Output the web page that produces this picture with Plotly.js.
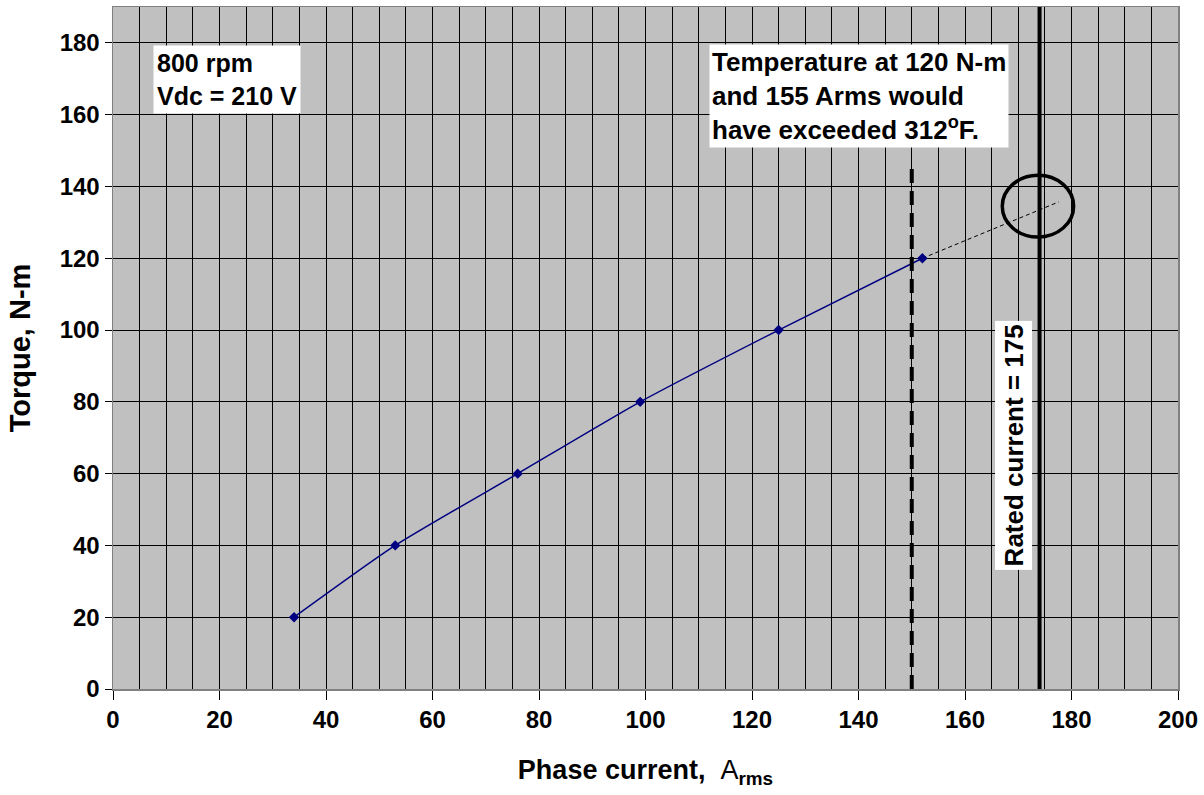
<!DOCTYPE html>
<html><head><meta charset="utf-8">
<script src="https://cdn.plot.ly/plotly-3.0.1.min.js"></script>
<style>body{margin:0;background:#fff}#c{width:1204px;height:795px}</style>
</head><body><div id="c"></div>
<script>
const currentA = [34, 53, 76, 99, 125, 152];
const torqueNm = [20, 40, 60, 80, 100, 120];
const extrapX = [152, 177.6];
const extrapY = [120, 135.7];
const tempLimitCurrent = 150;
const tempLimitTop = 145;
const ratedCurrentLine = 174;
const circleX = [167, 180.4];
const circleY = [125.9, 143.1];

const F = 'Arial, "Liberation Sans", sans-serif';

const traces = [
  {x: extrapX, y: extrapY, mode: 'lines', line: {color: '#000', width: 1, dash: '4px,3px'}, hoverinfo: 'skip'},
  {x: currentA, y: torqueNm, mode: 'lines+markers', line: {color: '#000080', width: 1.5, shape: 'spline', smoothing: 0.6},
   marker: {symbol: 'diamond', size: 8, color: '#000080'}}
];

const layout = {
  width: 1204, height: 795,
  margin: {l: 113, r: 26, t: 7, b: 106},
  paper_bgcolor: '#fff', plot_bgcolor: '#C0C0C0',
  showlegend: false,
  font: {family: F, color: '#000'},
  xaxis: {
    range: [0, 200], dtick: 20, tick0: 0,
    showgrid: true, gridcolor: '#000', gridwidth: 1,
    minor: {dtick: 5, showgrid: true, gridcolor: '#000', gridwidth: 1},
    ticks: 'outside', ticklen: 9, tickcolor: '#000', tickwidth: 1,
    showline: true, linecolor: '#808080', linewidth: 1.5, mirror: true,
    zeroline: false,
    tickfont: {family: F, size: 24, weight: 'bold'},
    title: {text: '<b>Phase current,  </b><span style="font-weight:normal">A</span><b><sub>rms</sub></b>', font: {family: F, size: 27}, standoff: 28}
  },
  yaxis: {
    range: [0, 190], dtick: 20, tick0: 0,
    showgrid: true, gridcolor: '#000', gridwidth: 1,
    ticks: 'outside', ticklen: 7, tickcolor: '#000', tickwidth: 1,
    showline: true, linecolor: '#808080', linewidth: 1.5, mirror: true,
    zeroline: false,
    tickfont: {family: F, size: 24, weight: 'bold'},
    title: {text: '<b>Torque, N-m</b>', font: {family: F, size: 29}, standoff: 20}
  },
  shapes: [
    {type: 'line', xref: 'x', yref: 'y', x0: tempLimitCurrent, x1: tempLimitCurrent, y0: 0, y1: tempLimitTop,
     line: {color: '#000', width: 4, dash: '14px,8px'}},
    {type: 'line', xref: 'x', yref: 'paper', x0: ratedCurrentLine, x1: ratedCurrentLine, y0: 0, y1: 1,
     line: {color: '#000', width: 4}},
    {type: 'circle', xref: 'x', yref: 'y', x0: circleX[0], x1: circleX[1], y0: circleY[0], y1: circleY[1],
     line: {color: '#000', width: 3.5}}
  ],
  annotations: [
    {xref: 'paper', yref: 'paper', x: 0.0376, y: 0.9445, xanchor: 'left', yanchor: 'top', align: 'left',
     text: '<b>800 rpm<br>Vdc = 210 V</b>', font: {family: F, size: 25}, bgcolor: '#fff', borderpad: 3, showarrow: false},
    {xref: 'paper', yref: 'paper', x: 0.5595, y: 0.946, xanchor: 'left', yanchor: 'top', align: 'left',
     text: '<b>Temperature at 120 N-m<br>and 155 Arms would<br>have exceeded 312<sup>o</sup>F.</b>', font: {family: F, size: 26}, bgcolor: '#fff', borderpad: 2, showarrow: false},
    {xref: 'x', yref: 'y', x: 169.1, y: 68, xanchor: 'center', yanchor: 'middle', textangle: -90,
     text: '<b>Rated current = 175</b>', font: {family: F, size: 26}, bgcolor: '#fff', borderpad: 3, showarrow: false}
  ]
};

Plotly.newPlot('c', traces, layout, {displayModeBar: false, staticPlot: true});
</script></body></html>
